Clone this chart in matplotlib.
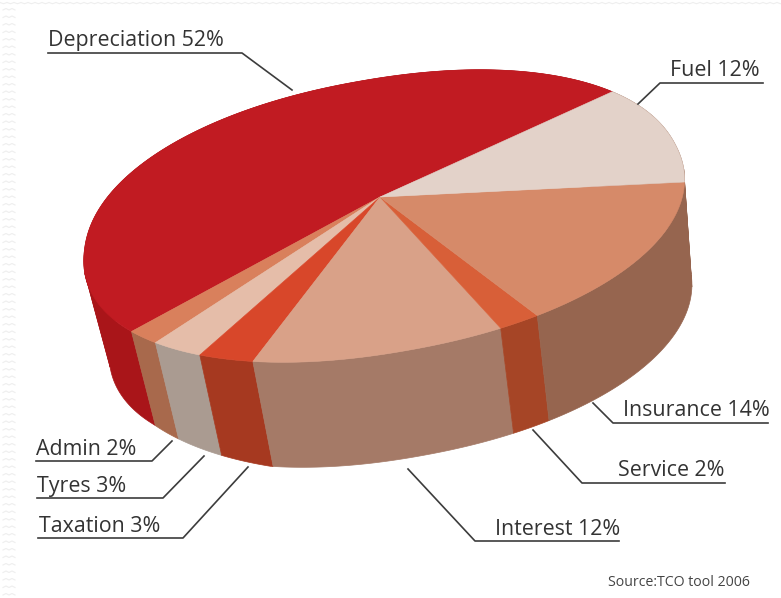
import numpy as np
import matplotlib
matplotlib.use("Agg")
import matplotlib.pyplot as plt
from matplotlib.patches import Polygon

plt.rcParams['font.family'] = ['Open Sans', 'DejaVu Sans']

# Cost shares, in the order they run round the pie
labels = ['Depreciation', 'Admin', 'Tyres', 'Taxation', 'Interest', 'Service', 'Insurance', 'Fuel']
shares = [52, 2, 3, 3, 12, 2, 14, 12]

top_colors = ['#c11b22', '#d9805c', '#e5bda9', '#d8472a', '#d9a188', '#d85f38', '#d68a69', '#e3d2c9']
side_colors = ['#a91519', '#a8694c', '#aa9b91', '#a63920', '#a57a67', '#a64526', '#96654f', '#96654f']

# Projection of the disc onto the page
apex = np.array([380.0, 197.0])
t0 = np.radians(29)
A, B, k = 300.0, 134.0, 0.14
tilt = np.radians(10)
roundness = 0.94
drop = np.array([17.0, 105.0])
squeeze = 0.97


def rim(t):
    # lens pull towards the near right of the disc
    near = (t - np.radians(300) + np.pi) % (2 * np.pi) - np.pi
    t = t - np.radians(4) * np.exp(-(near / np.radians(30)) ** 2)
    c, s = np.cos(t), np.sin(t)
    u = np.sign(c) * np.abs(c) ** roundness
    v = np.sign(s) * np.abs(s) ** roundness
    w = 1 + k * v
    x, y = A * u / w, -B * v / w
    return np.column_stack([
        apex[0] + x * np.cos(tilt) + y * np.sin(tilt),
        apex[1] - x * np.sin(tilt) + y * np.cos(tilt),
    ])


def lower_rim(t):
    up = rim(t)
    p = up + drop
    p[:, 0] = apex[0] + (p[:, 0] - apex[0]) * squeeze
    # the wall reads a little shallower on the far left
    p[:, 1] -= 11 * np.clip((250 - up[:, 0]) / 120, 0, 1)
    return p


def draw_side(t, color):
    # break the strip where the rim turns past the extrusion direction,
    # otherwise the polygon folds over itself and fills wrongly
    up, low = rim(t), lower_rim(t)
    step = np.diff(up, axis=0)
    turn = np.sign(step[:, 0] * drop[1] - step[:, 1] * drop[0])
    cuts = np.where(np.diff(turn) != 0)[0] + 1
    edges = [0] + list(cuts) + [len(t) - 1]
    for a, b in zip(edges[:-1], edges[1:]):
        pts = np.vstack([up[a:b + 1], low[a:b + 1][::-1]])
        ax.add_patch(Polygon(pts, closed=True, fc=color, ec=color, lw=0.5))


fig = plt.figure(figsize=(7.81, 5.98), dpi=100)
ax = fig.add_axes([0, 0, 1, 1])
ax.set_xlim(0, 781)
ax.set_ylim(598, 0)
ax.axis('off')

# wavy page border
zig_x = np.arange(0, 782, 3.5)
zig_y = 2.5 + 1.2 * (np.arange(len(zig_x)) % 2)
ax.plot(zig_x, zig_y, color='#eeeeee', lw=0.8)
for row in np.arange(10, 598, 7.5):
    xs = np.array([3, 6, 9, 12, 15])
    ax.plot(xs, row + np.array([0, -1.5, 0, -1.5, 0]), color='#eeeeee', lw=0.8)

bounds = t0 + np.cumsum([0] + shares) / sum(shares) * 2 * np.pi

# sides first; the top faces cover whatever is at the back
for i in range(len(shares)):
    draw_side(np.linspace(bounds[i], bounds[i + 1], 200), side_colors[i])

for i in range(len(shares)):
    t = np.linspace(bounds[i], bounds[i + 1], 200)
    pts = np.vstack([apex, rim(t)])
    ax.add_patch(Polygon(pts, closed=True, fc=top_colors[i], ec=top_colors[i], lw=0.4))

# leader lines and their labels
leaders = {
    'Depreciation': [(48, 53), (242, 53), (292, 90)],
    'Admin': [(172, 441), (152, 461), (36, 461)],
    'Tyres': [(204, 456), (163, 498), (37, 498)],
    'Taxation': [(248, 467), (183, 538), (38, 538)],
    'Interest': [(408, 469), (475, 541), (619, 541)],
    'Service': [(533, 430), (582, 483), (725, 483)],
    'Insurance': [(593, 403), (613, 423), (768, 423)],
    'Fuel': [(638, 104), (660, 83), (763, 83)],
}
text_pos = {
    'Depreciation': (48, 46), 'Admin': (36, 455), 'Tyres': (37, 492), 'Taxation': (39, 532),
    'Interest': (495, 535), 'Service': (618, 476), 'Insurance': (623, 416), 'Fuel': (670, 76),
}
for name, share in zip(labels, shares):
    xs, ys = zip(*leaders[name])
    ax.plot(xs, ys, color='#3c3c3c', lw=1.2)
    ax.text(*text_pos[name], f'{name} {share}%', fontsize=15.4, color='#333333', ha='left', va='baseline')

ax.text(608, 586, 'Source:TCO tool 2006', fontsize=10.2, color='#444444', ha='left', va='baseline')

fig.savefig('out.png', dpi=100)
